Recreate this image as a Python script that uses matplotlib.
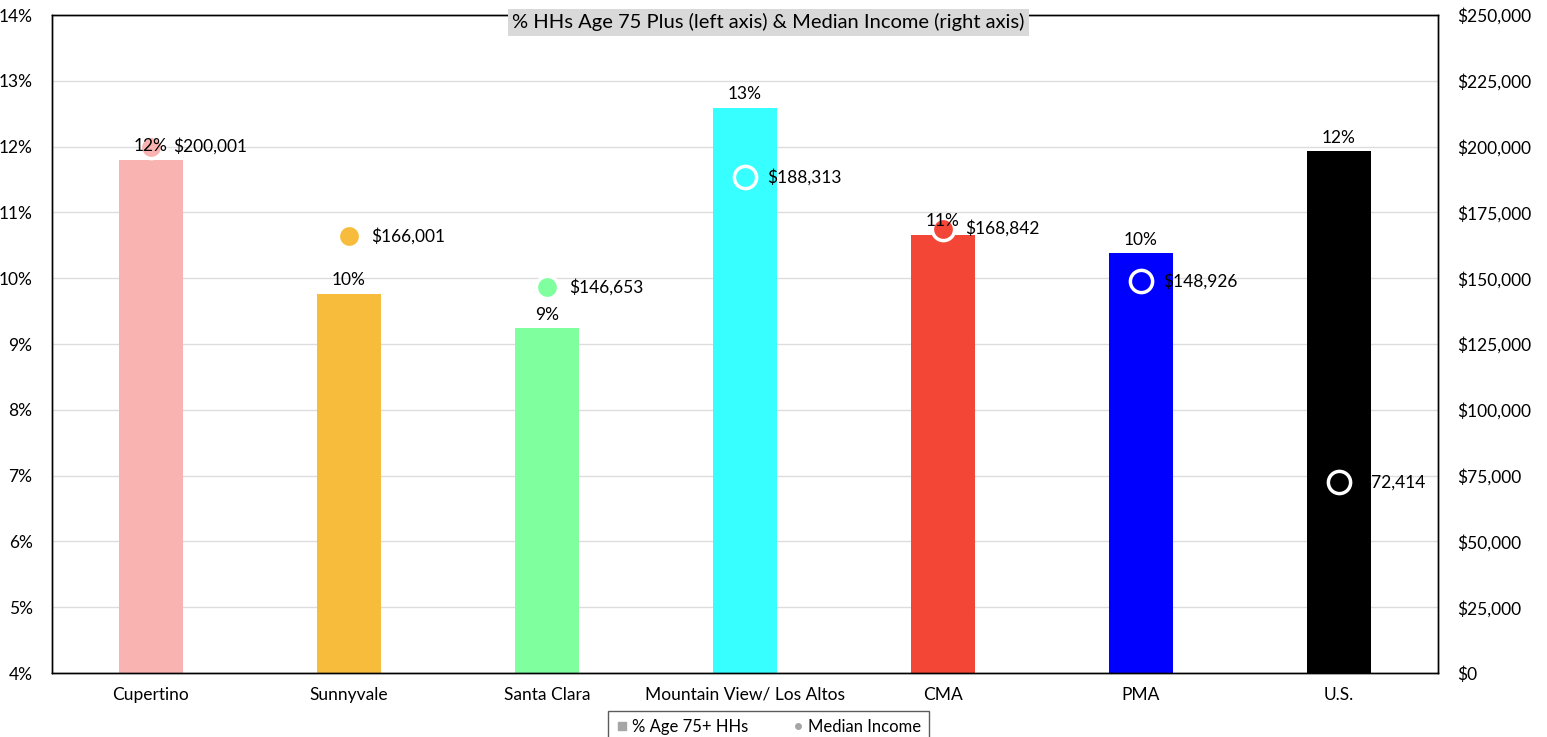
import matplotlib.pyplot as plt
from matplotlib.lines import Line2D
from matplotlib.ticker import FuncFormatter

plt.rcParams['font.family'] = ['Lato', 'DejaVu Sans']

# データ
areas = ['Cupertino', 'Sunnyvale', 'Santa Clara', 'Mountain View/ Los Altos', 'CMA', 'PMA', 'U.S.']
pct_75 = [11.80, 9.76, 9.24, 12.59, 10.66, 10.38, 11.93]
income = [200001, 166001, 146653, 188313, 168842, 148926, 72414]
colors = ['#f9b4b1', '#f8bc3c', '#80ff9f', '#38ffff', '#f44637', '#0000ff', '#000000']

fig = plt.figure(figsize=(15.47, 7.37), dpi=100)
ax = fig.add_axes([0.0336, 0.0868, 0.8959, 0.8928])
ax2 = ax.twinx()

x = list(range(len(areas)))

# 棒グラフ（左軸）
ax.bar(x, pct_75, width=0.32, bottom=0, color=colors, zorder=2)
ax.set_ylim(4, 14)
ax.set_xlim(-0.5, 6.5)
ax.set_yticks(range(4, 15))
ax.yaxis.set_major_formatter(FuncFormatter(lambda v, p: f'{int(v)}%'))
ax.grid(axis='y', color='#dddddd', linewidth=1, zorder=0)
ax.set_axisbelow(True)
ax.set_xticks(x)
ax.set_xticklabels(areas)
ax.tick_params(axis='both', length=0, labelsize=12.5)
ax.tick_params(axis='x', pad=10)
ax.tick_params(axis='y', pad=14)

# 所得（右軸）
ax2.set_ylim(0, 250000)
ax2.set_yticks(range(0, 250001, 25000))
ax2.yaxis.set_major_formatter(FuncFormatter(lambda v, p: f'${int(v):,}'))
ax2.tick_params(axis='y', length=0, labelsize=12.5, pad=14)
for i in x:
    ax2.plot(i, income[i], marker='o', markersize=16, color=colors[i],
             markeredgecolor='white', markeredgewidth=2.5, zorder=3)

# ラベル
for i in x:
    ax2.annotate(f'${income[i]:,}', (i, income[i]), xytext=(16, 0),
                 textcoords='offset points', ha='left', va='center',
                 fontsize=12.5, color='black', zorder=5)
    ax2.annotate(f'{pct_75[i]:.0f}%', (i, (pct_75[i] - 4) / 10 * 250000),
                 xytext=(0, 4), textcoords='offset points', ha='center',
                 va='bottom', fontsize=12.5, color='black', zorder=5)

for a in (ax, ax2):
    for s in a.spines.values():
        s.set_color('black')
        s.set_linewidth(1)

ax2.text(0.517, 0.989, '% HHs Age 75 Plus (left axis) & Median Income (right axis)',
         transform=ax2.transAxes, ha='center', va='center', fontsize=14.5,
         bbox=dict(facecolor='#d9d9d9', edgecolor='none', pad=3), zorder=6)

handles = [Line2D([], [], marker='s', color='#a6a6a6', linestyle='none', markersize=6),
           Line2D([], [], marker='o', color='#a6a6a6', linestyle='none', markersize=4)]
leg = ax.legend(handles, ['% Age 75+ HHs', 'Median Income'], loc='upper center',
                bbox_to_anchor=(0.517, -0.058), ncol=2, frameon=True, fancybox=False,
                fontsize=12, handletextpad=0.2, columnspacing=2.6, handlelength=0.8,
                borderpad=0.45, borderaxespad=0)
leg.get_frame().set_edgecolor('#333333')
leg.get_frame().set_linewidth(1)

plt.savefig('out.png', dpi=100)
